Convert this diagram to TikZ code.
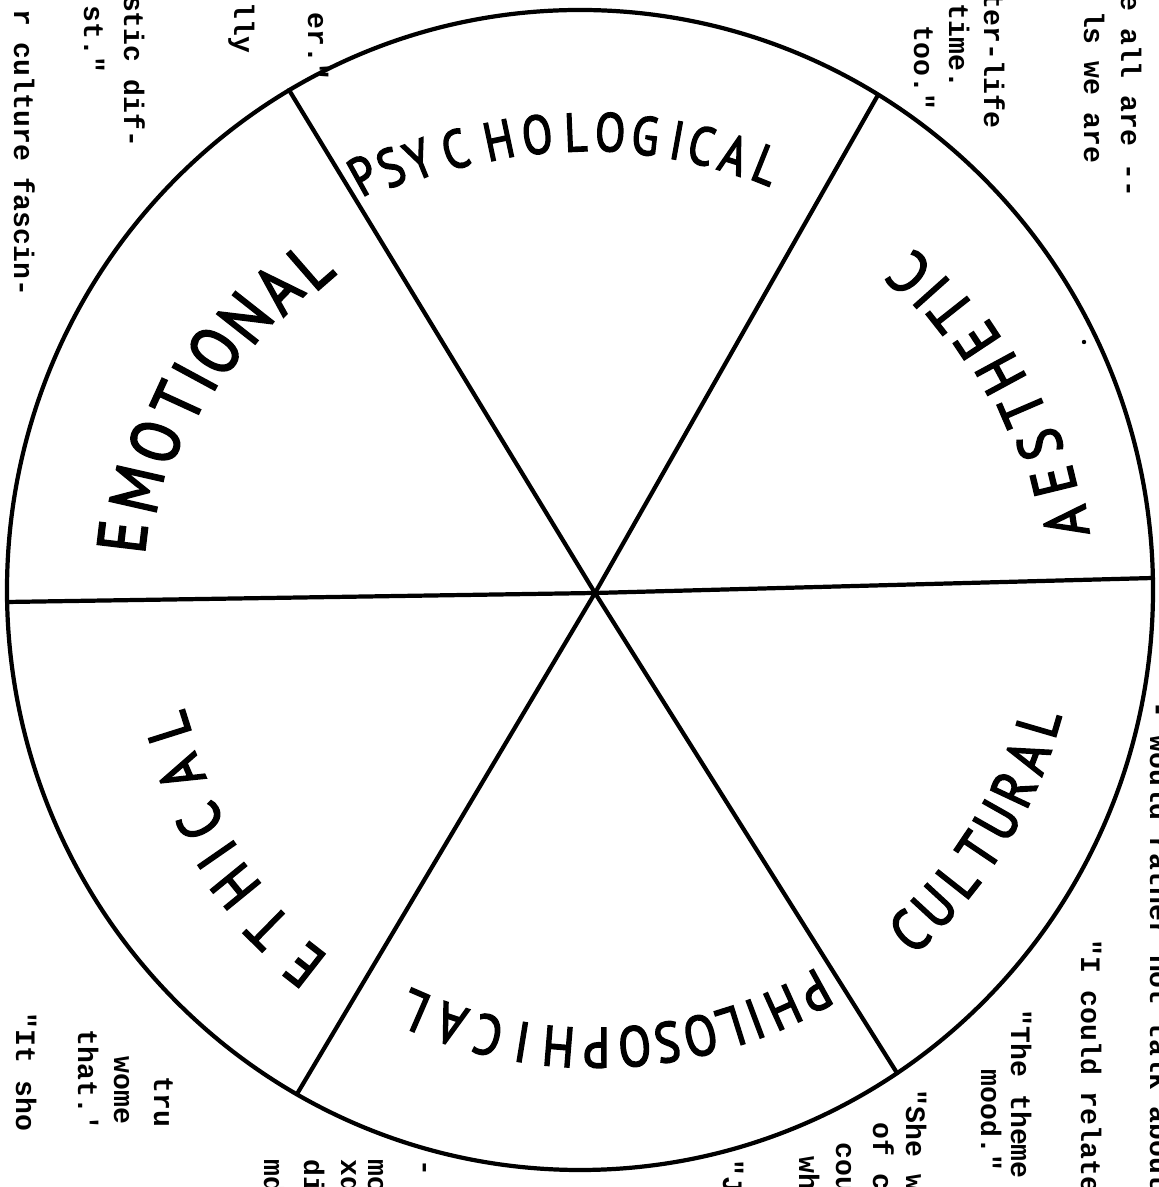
\documentclass[tikz,border=0pt]{standalone}
\usepackage{fontspec}
\setmainfont{Liberation Sans}
\newfontfamily\tw{Liberation Mono}
\newfontfamily\hand[FakeBold=3]{PT Sans}
\begin{document}
\begin{tikzpicture}[x=0.03cm,y=0.03cm,
  rim/.style={line width=3.6pt, line cap=round, line join=round},
  typed/.style={font=\tw\bfseries\fontsize{24}{24}\selectfont, rotate=-90, inner sep=0pt, outer sep=0pt},
  typedS/.style={typed, anchor=base west},
  typedE/.style={typed, anchor=base east},
  hw/.style={font=\hand\fontsize{#1}{#1}\selectfont, inner sep=0pt, outer sep=0pt, anchor=center},
]
\useasboundingbox (0,0) rectangle (1159,1187);
\clip (0,0) rectangle (1159,1187);
\fill[white] (0,0) rectangle (1159,1187);
% wheel
\coordinate (O) at (580,597);
\coordinate (C) at (595,594);
\coordinate (L) at (7,585);
\coordinate (R) at (1153,609);
\coordinate (UL) at (289,1097);
\coordinate (UR) at (878,1092);
\coordinate (LL) at (297,93);
\coordinate (LR) at (897,114);
\draw[rim] (O) ellipse [x radius=573, y radius=580];
\draw[rim] (L) -- (C) -- (R);
\draw[rim] (UL) -- (C) -- (LR);
\draw[rim] (UR) -- (C) -- (LL);
% sector labels, letter by letter (angle about the hub, radius)
\foreach \ch/\a/\r [count=\i] in {P/119/478, S/115.6/472, Y/112.1/468, C/107.5/465, H/102/463, O/97.2/462, L/92.4/461, O/88.1/461, G/83.7/460, I/79.7/460, C/76.6/460, A/72.4/460, L/68.2/461}
  \node[hw=46, rotate=\a-90] (psy\i) at ([shift={(\a:\r)}]C) {\scalebox{0.82}[1]{\ch}};
\foreach \ch/\a/\r [count=\i] in {E/173.2/476, M/167.2/470, O/161.0/465, T/155.4/459, I/151.6/455, O/147.5/451, N/141.8/445, A/136.2/440, L/131.0/434}
  \node[hw=58, rotate=\a-90] (emo\i) at ([shift={(\a:\r)}]C) {\scalebox{0.85}[1]{\ch}};
\foreach \ch/\a/\r [count=\i] in {A/8.6/476, E/13.7/472, S/18.5/469, T/23.3/465, H/28.4/461, E/33.5/458, T/38.3/454, I/41.8/451, C/45.5/448}
  \node[hw=52, rotate=\a+90] (aes\i) at ([shift={(\a:\r)}]C) {\scalebox{0.85}[1]{\ch}};
\foreach \ch/\a [count=\i] in {C/-47.1, U/-42.7, L/-38.3, T/-33.9, U/-29.5, R/-25.1, A/-20.7, L/-16.3}
  \node[hw=50, rotate=\a+90] (cul\i) at ([shift={(\a:462)}]C) {\scalebox{0.85}[1]{\ch}};
\foreach \ch/\a [count=\i] in {P/-61.1, H/-65.6, I/-69.4, L/-72.6, O/-76.6, S/-80.8, O/-85.0, P/-89.8, H/-94.6, I/-99.2, C/-103.6, A/-108.5, L/-113.4}
  \node[hw=48, rotate=\a-90] (phi\i) at ([shift={(\a:455)}]C) {\scalebox{0.85}[1]{\ch}};
\foreach \ch/\a/\r [count=\i] in {E/232/472, T/225.6/468, H/219.2/464, I/214.7/460, C/210.1/456, A/203.5/452, L/197.5/448}
  \node[hw=52, rotate=\a-90] (eth\i) at ([shift={(\a:\r)}]C) {\scalebox{0.85}[1]{\ch}};
% speck
\fill (1084,845) circle (2.2);
% typed fragments, right bottom
\node[typedS] (t1) at (1150,485) {- would rather not talk about};
\node[typedS] (t2) at (1081,247) {"I could relate};
\node[typedS] (t3) at (1011,177) {"The theme};
\node[typedS] (t4) at (981,117) {mood."};
\node[typedS] (t5) at (906,97) {"She w};
\node[typedS] (t6) at (873,64) {of c};
\node[typedS] (t7) at (836,44) {cou};
\node[typedS] (t8) at (799,30) {wh};
% right top
\node[typedE] (t9) at (1121,990) {e all are --};
\node[typedE] (t10) at (1084,1024) {ls we are};
\node[typedE] (t11) at (984,1059) {ter-life};
\node[typedE] (t12) at (949,1099) {time.};
\node[typedE] (t13) at (914,1077) {too."};
% left top
\node[typedE] (t14) at (308,1107) {er."};
\node[typedE] (t15) at (234,1134) {lly};
\node[typedE] (t16) at (124,1040) {stic dif-};
\node[typedE] (t17) at (84,1114) {st."};
\node[typedE] (t18) at (14,891) {r culture fascin-};
% left bottom
\node[typedS] (t19) at (16,174) {"It sho};
\node[typedS] (t20) at (78,157) {that.'};
\node[typedS] (t21) at (114,130) {wome};
\node[typedS] (t22) at (154,110) {tru};
% bottom middle
\node[typedS] (t23) at (264,27) {md};
\node[typedS] (t24) at (304,27) {di};
\node[typedS] (t25) at (341,27) {xd};
\node[typedS] (t26) at (368,27) {mo};
\node[typedS] (t27) at (417,27) {-};
\node[typedS] (t28) at (723,27) {"J};
\end{tikzpicture}
\end{document}
